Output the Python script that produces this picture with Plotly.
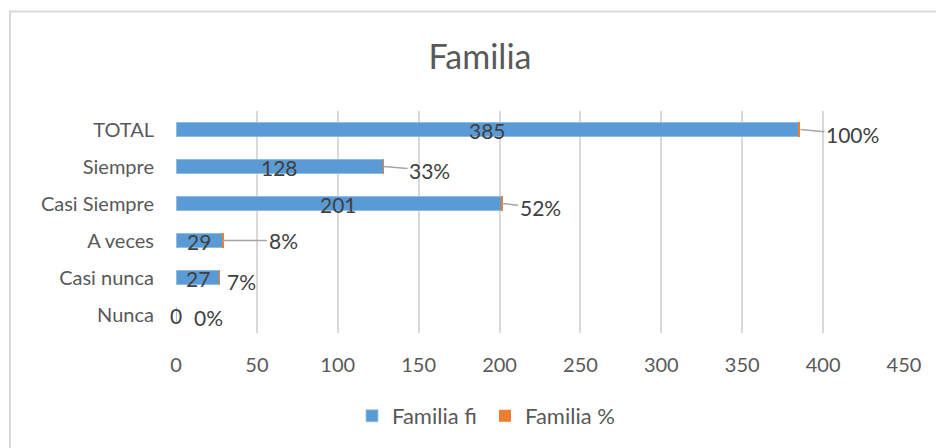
import plotly.graph_objects as go

# Survey responses for "Familia" (bottom to top as drawn)
categories = ["Nunca", "Casi nunca", "A veces", "Casi Siempre", "Siempre", "TOTAL"]
familia_fi = [0, 27, 29, 201, 128, 385]
familia_pct = [0.00, 0.07, 0.08, 0.52, 0.33, 1.00]
x_ticks = [0, 50, 100, 150, 200, 250, 300, 350, 400, 450]

# pixel offsets of the percentage labels from the bar ends, and whether a leader line is drawn
pct_offsets = [(32, 3), (22, 4), (60, 0), (38, 4), (46, 4), (52, 5)]
pct_leader = [False, False, True, True, True, True]

FONT = "Lato"
TEXT = "#595959"
LABEL = "#404040"

fig = go.Figure()
fig.add_trace(go.Bar(
    y=categories, x=familia_fi, orientation="h", name="Familia fi",
    marker=dict(color="#5b9bd5", line=dict(color="#9dc3e6", width=0.8)),
))
fig.add_trace(go.Bar(
    y=categories, x=familia_pct, orientation="h", name="Familia %",
    marker=dict(color="#ed7d31", line=dict(width=0)),
))

annotations = []
# frequency labels centred in the blue bars
for cat, v in zip(categories, familia_fi):
    annotations.append(dict(
        x=v / 2, y=cat, xref="x", yref="y", text=str(v), showarrow=False,
        font=dict(family=FONT, size=21, color=LABEL), yshift=-1,
    ))
# percentage labels beside the bar ends
for cat, v, p, (ox, oy), lead in zip(categories, familia_fi, familia_pct, pct_offsets, pct_leader):
    annotations.append(dict(
        x=v + p, y=cat, xref="x", yref="y", text=f"{round(p * 100)}%",
        showarrow=True, arrowhead=0, arrowwidth=1.5,
        arrowcolor="#a6a6a6" if lead else "rgba(0,0,0,0)",
        ax=ox, ay=oy, standoff=0,
        font=dict(family=FONT, size=21, color=LABEL),
    ))

fig.update_layout(
    barmode="stack",
    bargap=0.62,
    width=936, height=448,
    margin=dict(l=176, r=32, t=111, b=115),
    paper_bgcolor="white", plot_bgcolor="white",
    font=dict(family=FONT, color=TEXT),
    title=dict(text="Familia", x=480 / 936, xanchor="center", xref="container",
               y=1 - 57 / 448, yanchor="middle", yref="container",
               font=dict(family=FONT, size=34, color=TEXT)),
    xaxis=dict(range=[0, 450], tickvals=x_ticks, showgrid=True, gridcolor="#d9d9d9",
               gridwidth=1.5, zeroline=False, showline=False,
               tickfont=dict(family=FONT, size=20, color=TEXT), ticklabelstandoff=18),
    yaxis=dict(showgrid=False, zeroline=False, showline=False,
               tickfont=dict(family=FONT, size=20, color=TEXT), ticklabelstandoff=21),
    showlegend=True,
    legend=dict(orientation="h", xref="container", yref="container",
                x=352 / 936, xanchor="left", y=(448 - 416) / 448, yanchor="middle",
                font=dict(family=FONT, size=22, color=TEXT), traceorder="normal",
                itemwidth=30, entrywidth=88),
    annotations=annotations,
    shapes=[dict(type="rect", xref="paper", yref="paper",
                 x0=(10 - 176) / 728, x1=1.2, y0=-0.8, y1=(333.5 - 12) / 222,
                 line=dict(color="#d9d9d9", width=2), fillcolor="rgba(0,0,0,0)",
                 layer="below")],
)

fig.write_html("out.html")
